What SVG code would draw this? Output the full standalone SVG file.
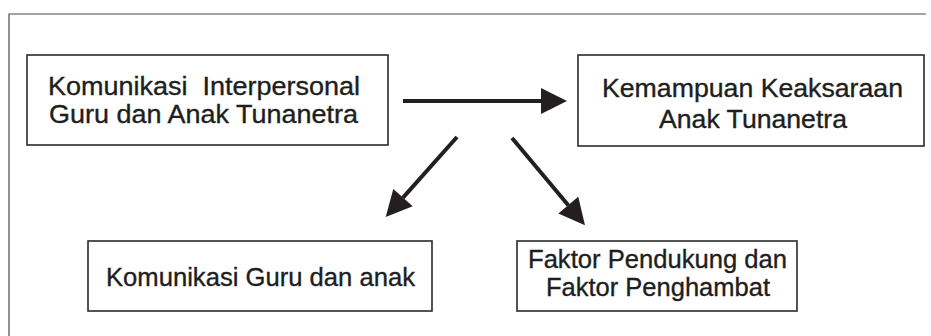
<svg xmlns="http://www.w3.org/2000/svg" width="931" height="336" viewBox="0 0 931 336">
<style>
.box{fill:#fff;stroke:#2a2a2a;stroke-width:1.6}
.t{font-family:"Liberation Sans",Arial,sans-serif;font-size:25.5px;fill:#1e1e1e;stroke:#1e1e1e;stroke-width:0.35}
.c{stroke:#231f20;stroke-width:4;fill:none}
.frame{stroke:#4a4a4a;stroke-width:1.2;fill:none}
</style>
<defs>
<marker id="ah" markerUnits="userSpaceOnUse" markerWidth="27" markerHeight="27" refX="0" refY="13" orient="auto" overflow="visible">
<path d="M0,0 L26,13 L0,26 z" fill="#231f20"/>
</marker>
</defs>
<rect width="931" height="336" fill="#fff"/>
<path class="frame" d="M9,336 V14 H926"/>
<g id="node-komunikasi-interpersonal">
<rect class="box" x="27" y="55" width="361" height="90"/>
<text class="t" x="48" y="95" textLength="312" lengthAdjust="spacingAndGlyphs" xml:space="preserve">Komunikasi  Interpersonal</text>
<text class="t" x="49" y="123" textLength="309" lengthAdjust="spacingAndGlyphs">Guru dan Anak Tunanetra</text>
</g>
<g id="node-kemampuan">
<rect class="box" x="578" y="55" width="346" height="91"/>
<text class="t" x="602" y="97" textLength="301" lengthAdjust="spacingAndGlyphs">Kemampuan Keaksaraan</text>
<text class="t" x="659" y="128" textLength="188" lengthAdjust="spacingAndGlyphs">Anak Tunanetra</text>
</g>
<g id="node-komunikasi-guru">
<rect class="box" x="88" y="241" width="344" height="70"/>
<text class="t" x="106" y="286" textLength="309" lengthAdjust="spacingAndGlyphs">Komunikasi Guru dan anak</text>
</g>
<g id="node-faktor">
<rect class="box" x="517" y="241" width="280" height="70"/>
<text class="t" x="528" y="268" textLength="259" lengthAdjust="spacingAndGlyphs">Faktor Pendukung dan</text>
<text class="t" x="546" y="296" textLength="224" lengthAdjust="spacingAndGlyphs">Faktor Penghambat</text>
</g>
<g id="connectors">
<line class="c" x1="403" y1="101" x2="541" y2="101" marker-end="url(#ah)"/>
<line class="c" x1="457" y1="137" x2="403" y2="197.6" marker-end="url(#ah)"/>
<line class="c" x1="512" y1="138" x2="568.3" y2="205.2" marker-end="url(#ah)"/>
</g>
</svg>
